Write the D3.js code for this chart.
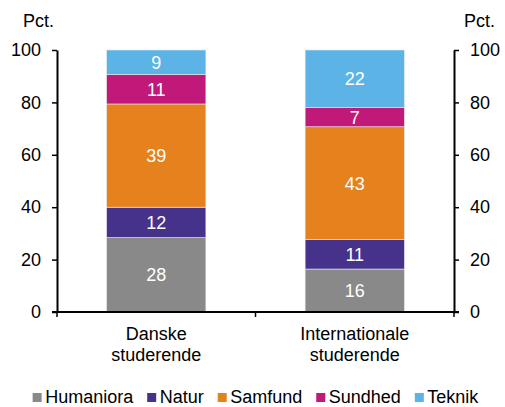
<!DOCTYPE html>
<html>
<head>
<meta charset="utf-8">
<script src="https://cdn.jsdelivr.net/npm/d3@7"></script>
<style>
  html, body { margin: 0; padding: 0; background: #fff; }
  svg text { font-family: Arial, "Liberation Sans", sans-serif; }
</style>
</head>
<body>
<svg id="chart" width="505" height="407"></svg>
<script>
// Fordeling af studerende på hovedområder, pct.
const groups = [["Danske", "studerende"], ["Internationale", "studerende"]];
const fields = ["Humaniora", "Natur", "Samfund", "Sundhed", "Teknik"];
const colors = ["#898989", "#46328a", "#e6821e", "#c0197a", "#5bb4e5"];
const danske = [28.4, 11.6, 39.4, 11.3, 9.3];
const internationale = [16.4, 11.2, 43.1, 7.3, 22.0];
const yTicks = [0, 20, 40, 60, 80, 100];

const series = [danske, internationale];
const svg = d3.select("#chart");
const font = 18;

const x0 = 57, x1 = 454, yTop = 50, yBot = 312;

const x = d3.scaleBand()
  .domain(groups.map((g, i) => i))
  .range([x0, x1])
  .paddingInner(0.5)
  .paddingOuter(0.25);

const y = d3.scaleLinear().domain([0, 100]).range([yBot, yTop]);

// Stacked bars with value labels
groups.forEach((g, gi) => {
  let cum = 0;
  series[gi].forEach((v, fi) => {
    const y0 = cum, y1 = cum + v;
    cum = y1;
    svg.append("rect")
      .attr("x", x(gi))
      .attr("width", x.bandwidth())
      .attr("y", y(y1))
      .attr("height", y(y0) - y(y1))
      .attr("fill", colors[fi])
      .attr("stroke", "#e8e8e8")
      .attr("stroke-width", 0.6);
    svg.append("text")
      .attr("x", x(gi) + x.bandwidth() / 2)
      .attr("y", y((y0 + y1) / 2))
      .attr("dy", "0.36em")
      .attr("text-anchor", "middle")
      .attr("fill", "#fff")
      .attr("font-size", font)
      .text(Math.round(v));
  });
});

// Value axes on both sides
const leftAxis = d3.axisLeft(y).tickValues(yTicks).tickSize(5).tickSizeOuter(0).tickPadding(11);
const rightAxis = d3.axisRight(y).tickValues(yTicks).tickSize(5).tickSizeOuter(0).tickPadding(11);

function styleAxis(g) {
  g.select(".domain").attr("stroke", "#000").attr("stroke-width", 2);
  g.selectAll(".tick line").attr("stroke", "#000").attr("stroke-width", 1.5);
  g.selectAll(".tick text").attr("font-size", font).attr("fill", "#000")
    .attr("font-family", "Arial, 'Liberation Sans', sans-serif");
}

svg.append("g").attr("transform", `translate(${x0},0)`).call(leftAxis).call(styleAxis);
svg.append("g").attr("transform", `translate(${x1},0)`).call(rightAxis).call(styleAxis);

// Category axis with ticks at group boundaries
const bounds = [x0, (x0 + x1) / 2, x1];
svg.append("line")
  .attr("x1", x0 - 5).attr("x2", x1 + 5)
  .attr("y1", yBot).attr("y2", yBot)
  .attr("stroke", "#000").attr("stroke-width", 2);
bounds.forEach(bx => {
  svg.append("line")
    .attr("x1", bx).attr("x2", bx)
    .attr("y1", yBot).attr("y2", yBot + 5)
    .attr("stroke", "#000").attr("stroke-width", 1.5);
});
groups.forEach((g, gi) => {
  const t = svg.append("text")
    .attr("x", x(gi) + x.bandwidth() / 2)
    .attr("y", 340)
    .attr("text-anchor", "middle")
    .attr("font-size", font)
    .attr("fill", "#000");
  g.forEach((line, li) => {
    t.append("tspan")
      .attr("x", x(gi) + x.bandwidth() / 2)
      .attr("dy", li === 0 ? 0 : 21)
      .text(line);
  });
});

// Unit labels
svg.append("text").attr("x", 23).attr("y", 27).attr("font-size", font).text("Pct.");
svg.append("text").attr("x", 464).attr("y", 27).attr("font-size", font).text("Pct.");

// Legend
const legend = svg.append("g");
let lx = 0;
const sq = 9, gapText = 3.5, gapItem = 14;
fields.forEach((f, i) => {
  const item = legend.append("g").attr("transform", `translate(${lx},0)`);
  item.append("rect").attr("x", 0).attr("y", -sq).attr("width", sq).attr("height", sq)
    .attr("fill", colors[i]);
  const t = item.append("text").attr("x", sq + gapText).attr("y", 0.5)
    .attr("font-size", font).attr("fill", "#000").text(f);
  lx += sq + gapText + t.node().getComputedTextLength() + gapItem;
});
const totalW = lx - gapItem;
legend.attr("transform", `translate(${(x0 + x1) / 2 - totalW / 2},402)`);
</script>
</body>
</html>
